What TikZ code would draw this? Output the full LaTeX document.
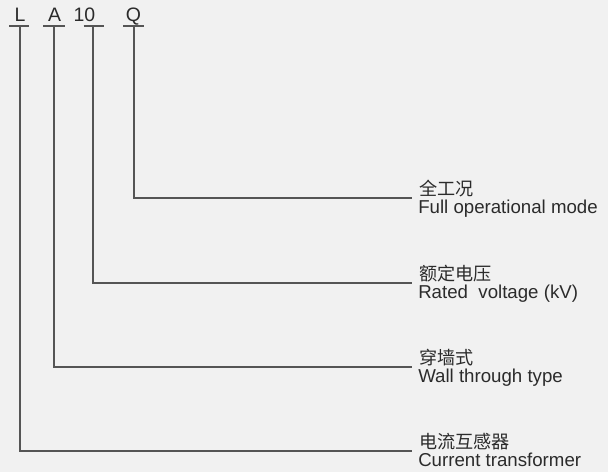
\documentclass[tikz,border=0pt]{standalone}
\usepackage{fontspec}
\setmainfont{Liberation Sans}
\newfontfamily\cjk{Noto Sans CJK SC}
\definecolor{bgcol}{HTML}{F1F1F1}
\definecolor{inkcol}{HTML}{2B2B2B}
\definecolor{wirecol}{HTML}{555555}

\tikzset{
  code/.style={anchor=base, inner sep=0pt, text=inkcol, font=\fontsize{14.6}{16}\selectfont},
  cnlabel/.style={anchor=base west, inner sep=0pt, text=inkcol, font=\cjk\fontsize{13.6}{15}\selectfont},
  enlabel/.style={anchor=base west, inner sep=0pt, text=inkcol, font=\fontsize{14}{16}\selectfont},
  wire/.style={draw=wirecol, line width=0.8pt}
}

\begin{document}
\begin{tikzpicture}[x=0.75pt,y=-0.75pt]
    \fill[bgcol] (0,0) rectangle (608,472);
    \useasboundingbox (0,0) rectangle (608,472);

    % model code
    \node[code] (L) at (20,21) {L};
    \node[code] (A) at (54.5,21) {A};
    \node[code] (rated) at (84.5,21) {10};
    \node[code] (Q) at (133.5,21) {Q};

    % tee points under the letters
    \coordinate (tL) at (20,26);
    \coordinate (tA) at (54,26);
    \coordinate (trated) at (93,26);
    \coordinate (tQ) at (134,26);

    \draw[wire] ([xshift=-8]tL) -- ([xshift=7]tL);
    \draw[wire] ([xshift=-8]tA) -- ([xshift=8]tA);
    \draw[wire] ([xshift=-7]trated) -- ([xshift=8]trated);
    \draw[wire] ([xshift=-8]tQ) -- ([xshift=7.5]tQ);

    % line ends
    \coordinate (eQ) at (412,198);
    \coordinate (erated) at (412,283);
    \coordinate (eA) at (412,367);
    \coordinate (eL) at (412,451);

    \draw[wire] (tQ) |- (eQ);
    \draw[wire] (trated) |- (erated);
    \draw[wire] (tA) |- (eA);
    \draw[wire] (tL) |- (eL);

    % labels
    \node[cnlabel] (cnQ) at (419,195.5) {全工况};
    \node[enlabel] (enQ) at (418,213.5) {Full operational mode};

    \node[cnlabel] (cnrated) at (419,280.5) {额定电压};
    \node[enlabel] (enrated) at (418,298.5) {Rated\ \ voltage (kV)};

    \node[cnlabel] (cnA) at (419,364.5) {穿墙式};
    \node[enlabel] (enA) at (418,382.5) {Wall through type};

    \node[cnlabel] (cnL) at (419,448.5) {电流互感器};
    \node[enlabel] (enL) at (418,466.5) {Current transformer};
\end{tikzpicture}
\end{document}
